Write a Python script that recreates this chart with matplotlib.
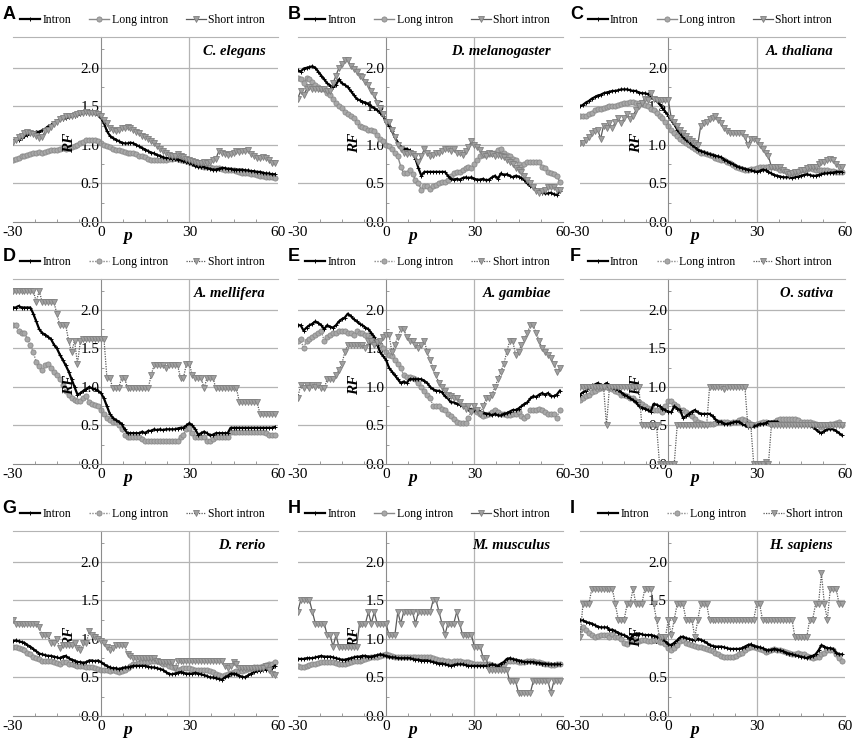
import numpy as np
import matplotlib
matplotlib.use('Agg')
import matplotlib.pyplot as plt
from matplotlib.ticker import MultipleLocator

plt.rcParams['font.family'] = ['Liberation Serif', 'DejaVu Serif']
plt.rcParams['axes.unicode_minus'] = False

# 位置 -30 .. 59
positions = np.arange(-30, 60)

letters = ['A', 'B', 'C', 'D', 'E', 'F', 'G', 'H', 'I']
species = ['C. elegans', 'D. melanogaster', 'A. thaliana', 'A. mellifera', 'A. gambiae',
           'O. sativa', 'D. rerio', 'M. musculus', 'H. sapiens']
series_names = ['Intron', 'Long intron', 'Short intron']
x_ticks = [-30, 0, 30, 60]
y_ticks = [0.0, 0.5, 1.0, 1.5, 2.0]

# A  C. elegans
ce_intron = [1.05, 1.06, 1.07, 1.09, 1.11, 1.13, 1.15, 1.16, 1.17, 1.17,
             1.19, 1.21, 1.24, 1.26, 1.28, 1.31, 1.33, 1.34, 1.35, 1.36,
             1.37, 1.38, 1.39, 1.40, 1.41, 1.42, 1.42, 1.41, 1.41, 1.39,
             1.35, 1.28, 1.18, 1.12, 1.09, 1.07, 1.05, 1.03, 1.02, 1.02,
             1.03, 1.02, 1.00, 0.98, 0.96, 0.94, 0.92, 0.90, 0.89, 0.87,
             0.86, 0.84, 0.83, 0.83, 0.82, 0.82, 0.81, 0.80, 0.79, 0.78,
             0.77, 0.75, 0.73, 0.72, 0.72, 0.71, 0.70, 0.69, 0.68, 0.68,
             0.69, 0.70, 0.70, 0.69, 0.69, 0.68, 0.68, 0.68, 0.68, 0.67,
             0.67, 0.66, 0.66, 0.65, 0.65, 0.64, 0.63, 0.63, 0.62, 0.62]
ce_long = [0.80, 0.82, 0.83, 0.85, 0.86, 0.87, 0.88, 0.89, 0.90, 0.91,
           0.90, 0.91, 0.92, 0.93, 0.94, 0.93, 0.95, 0.96, 0.95, 0.96,
           0.97, 0.99, 1.00, 1.02, 1.04, 1.06, 1.07, 1.07, 1.06, 1.05,
           1.03, 1.00, 0.98, 0.97, 0.95, 0.94, 0.93, 0.92, 0.91, 0.90,
           0.90, 0.89, 0.88, 0.86, 0.85, 0.84, 0.82, 0.81, 0.80, 0.80,
           0.80, 0.81, 0.80, 0.82, 0.82, 0.83, 0.82, 0.81, 0.80, 0.79,
           0.78, 0.76, 0.75, 0.74, 0.73, 0.72, 0.72, 0.71, 0.70, 0.70,
           0.70, 0.69, 0.68, 0.68, 0.67, 0.67, 0.66, 0.65, 0.64, 0.64,
           0.63, 0.62, 0.62, 0.61, 0.60, 0.60, 0.59, 0.59, 0.58, 0.57]
ce_short = [1.04, 1.07, 1.10, 1.12, 1.15, 1.17, 1.16, 1.14, 1.12, 1.09,
            1.10, 1.18, 1.20, 1.23, 1.27, 1.30, 1.33, 1.35, 1.37, 1.37,
            1.38, 1.39, 1.40, 1.41, 1.42, 1.43, 1.42, 1.41, 1.42, 1.40,
            1.38, 1.32, 1.28, 1.22, 1.20, 1.18, 1.20, 1.22, 1.22, 1.23,
            1.22, 1.20, 1.17, 1.15, 1.12, 1.10, 1.08, 1.05, 1.02, 0.98,
            0.95, 0.92, 0.90, 0.87, 0.85, 0.86, 0.88, 0.86, 0.84, 0.82,
            0.80, 0.79, 0.78, 0.77, 0.77, 0.78, 0.77, 0.78, 0.80, 0.82,
            0.92, 0.90, 0.88, 0.87, 0.88, 0.90, 0.92, 0.91, 0.92, 0.92,
            0.93, 0.88, 0.85, 0.83, 0.83, 0.84, 0.83, 0.80, 0.77, 0.76]

# B  D. melanogaster
dm_intron = [1.97, 1.95, 1.99, 2.00, 2.01, 2.02, 2.00, 1.95, 1.90, 1.85,
             1.80, 1.77, 1.75, 1.78, 1.85, 1.80, 1.78, 1.75, 1.70, 1.65,
             1.60, 1.58, 1.56, 1.55, 1.53, 1.50, 1.48, 1.45, 1.42, 1.38,
             1.30, 1.25, 1.18, 1.10, 1.03, 0.97, 0.95, 0.95, 0.93, 0.90,
             0.82, 0.70, 0.60, 0.65, 0.65, 0.65, 0.65, 0.65, 0.65, 0.65,
             0.65, 0.60, 0.56, 0.55, 0.56, 0.55, 0.57, 0.58, 0.57, 0.58,
             0.56, 0.55, 0.55, 0.56, 0.54, 0.55, 0.58, 0.60, 0.56, 0.63,
             0.61, 0.62, 0.60, 0.58, 0.60, 0.59, 0.57, 0.55, 0.50, 0.47,
             0.45, 0.42, 0.40, 0.38, 0.37, 0.37, 0.38, 0.36, 0.35, 0.40]
dm_long = [1.87, 1.85, 1.80, 1.87, 1.85, 1.82, 1.78, 1.75, 1.73, 1.72,
           1.68, 1.65, 1.60, 1.55, 1.50, 1.48, 1.43, 1.40, 1.38, 1.35,
           1.30, 1.25, 1.23, 1.22, 1.20, 1.20, 1.18, 1.13, 1.08, 1.05,
           1.00, 0.98, 0.95, 0.90, 0.85, 0.72, 0.63, 0.63, 0.68, 0.62,
           0.55, 0.50, 0.42, 0.47, 0.47, 0.43, 0.47, 0.48, 0.50, 0.52,
           0.52, 0.55, 0.60, 0.63, 0.65, 0.65, 0.68, 0.70, 0.72, 0.70,
           0.75, 0.80, 0.85, 0.87, 0.88, 0.88, 0.90, 0.90, 0.93, 0.95,
           0.90, 0.87, 0.85, 0.82, 0.80, 0.75, 0.72, 0.75, 0.78, 0.78,
           0.78, 0.78, 0.78, 0.72, 0.70, 0.65, 0.63, 0.62, 0.60, 0.52]
dm_short = [1.60, 1.70, 1.65, 1.72, 1.75, 1.73, 1.73, 1.73, 1.73, 1.72,
            1.70, 1.70, 1.80, 1.90, 2.00, 2.05, 2.10, 2.10, 2.02, 1.98,
            1.95, 1.90, 1.88, 1.82, 1.78, 1.70, 1.65, 1.55, 1.48, 1.40,
            1.30, 1.30, 1.20, 1.10, 1.00, 0.95, 0.90, 0.88, 0.90, 0.88,
            0.85, 0.78, 0.85, 0.95, 0.90, 0.85, 0.87, 0.90, 0.90, 0.92,
            0.95, 0.95, 0.92, 0.95, 0.90, 0.90, 0.87, 0.92, 0.97, 1.05,
            1.00, 0.97, 0.93, 0.88, 0.85, 0.90, 0.88, 0.85, 0.87, 0.85,
            0.84, 0.80, 0.78, 0.75, 0.70, 0.68, 0.65, 0.60, 0.55, 0.50,
            0.45, 0.40, 0.38, 0.40, 0.42, 0.45, 0.45, 0.45, 0.42, 0.42]

# C  A. thaliana
at_intron = [1.50, 1.52, 1.55, 1.57, 1.60, 1.62, 1.64, 1.65, 1.67, 1.68,
             1.69, 1.70, 1.70, 1.71, 1.72, 1.72, 1.72, 1.71, 1.70, 1.70,
             1.68, 1.67, 1.67, 1.66, 1.62, 1.60, 1.57, 1.53, 1.48, 1.43,
             1.38, 1.32, 1.27, 1.20, 1.15, 1.10, 1.07, 1.04, 1.00, 0.97,
             0.94, 0.92, 0.91, 0.89, 0.88, 0.87, 0.86, 0.85, 0.84, 0.81,
             0.79, 0.77, 0.75, 0.73, 0.71, 0.70, 0.69, 0.68, 0.67, 0.66,
             0.65, 0.66, 0.68, 0.67, 0.65, 0.63, 0.61, 0.60, 0.59, 0.58,
             0.58, 0.58, 0.57, 0.58, 0.59, 0.60, 0.61, 0.62, 0.61, 0.60,
             0.60, 0.61, 0.62, 0.63, 0.63, 0.64, 0.64, 0.65, 0.65, 0.65]
at_long = [1.38, 1.37, 1.38, 1.40, 1.42, 1.45, 1.46, 1.47, 1.48, 1.49,
           1.50, 1.50, 1.51, 1.52, 1.53, 1.54, 1.55, 1.56, 1.56, 1.55,
           1.55, 1.53, 1.52, 1.50, 1.47, 1.45, 1.42, 1.38, 1.35, 1.30,
           1.25, 1.20, 1.15, 1.12, 1.08, 1.05, 1.02, 1.00, 0.97, 0.95,
           0.92, 0.90, 0.89, 0.88, 0.87, 0.85, 0.83, 0.82, 0.81, 0.80,
           0.78, 0.76, 0.74, 0.72, 0.70, 0.69, 0.68, 0.68, 0.69, 0.69,
           0.70, 0.71, 0.72, 0.72, 0.71, 0.72, 0.71, 0.70, 0.68, 0.67,
           0.66, 0.63, 0.64, 0.65, 0.66, 0.67, 0.68, 0.69, 0.70, 0.69,
           0.68, 0.68, 0.68, 0.67, 0.67, 0.66, 0.66, 0.65, 0.65, 0.65]
at_short = [1.03, 1.03, 1.07, 1.10, 1.15, 1.18, 1.20, 1.08, 1.25, 1.22,
            1.28, 1.22, 1.30, 1.35, 1.28, 1.35, 1.40, 1.33, 1.38, 1.45,
            1.50, 1.55, 1.60, 1.58, 1.68, 1.60, 1.58, 1.58, 1.58, 1.58,
            1.58, 1.35, 1.30, 1.25, 1.20, 1.15, 1.12, 1.08, 1.05, 1.02,
            1.00, 1.25, 1.28, 1.30, 1.33, 1.35, 1.37, 1.32, 1.28, 1.22,
            1.18, 1.15, 1.15, 1.15, 1.15, 1.15, 1.10, 1.00, 1.08, 1.08,
            1.05, 1.00, 0.95, 0.90, 0.85, 0.72, 0.72, 0.72, 0.72, 0.68,
            0.65, 0.62, 0.63, 0.65, 0.65, 0.68, 0.68, 0.70, 0.72, 0.72,
            0.72, 0.75, 0.78, 0.78, 0.80, 0.82, 0.80, 0.75, 0.72, 0.72]

# D  A. mellifera
am_intron = [2.03, 2.03, 2.05, 2.03, 2.03, 2.03, 2.03, 1.95, 1.85, 1.75,
             1.70, 1.68, 1.65, 1.62, 1.55, 1.50, 1.42, 1.35, 1.28, 1.20,
             1.10, 1.00, 0.90, 0.92, 0.95, 0.97, 1.00, 0.98, 0.97, 0.95,
             0.92, 0.85, 0.75, 0.65, 0.60, 0.57, 0.55, 0.52, 0.45, 0.40,
             0.40, 0.40, 0.40, 0.40, 0.42, 0.40, 0.43, 0.43, 0.45, 0.44,
             0.45, 0.44, 0.45, 0.45, 0.45, 0.45, 0.46, 0.47, 0.47, 0.50,
             0.53, 0.50, 0.45, 0.38, 0.40, 0.42, 0.40, 0.37, 0.38, 0.40,
             0.40, 0.40, 0.40, 0.40, 0.47, 0.47, 0.47, 0.47, 0.47, 0.47,
             0.47, 0.47, 0.47, 0.47, 0.47, 0.47, 0.47, 0.47, 0.47, 0.48]
am_long = [1.80, 1.80, 1.72, 1.70, 1.70, 1.62, 1.55, 1.45, 1.32, 1.27,
           1.22, 1.28, 1.30, 1.25, 1.20, 1.15, 1.10, 1.03, 0.95, 0.90,
           0.86, 0.83, 0.82, 0.82, 0.85, 0.88, 0.80, 0.78, 0.77, 0.75,
           0.70, 0.65, 0.60, 0.57, 0.55, 0.55, 0.50, 0.45, 0.37, 0.35,
           0.35, 0.35, 0.35, 0.35, 0.33, 0.30, 0.30, 0.30, 0.30, 0.30,
           0.30, 0.30, 0.30, 0.30, 0.30, 0.30, 0.30, 0.35, 0.38, 0.45,
           0.47, 0.40, 0.35, 0.35, 0.35, 0.35, 0.30, 0.30, 0.32, 0.35,
           0.35, 0.35, 0.35, 0.35, 0.42, 0.42, 0.42, 0.42, 0.42, 0.42,
           0.42, 0.42, 0.42, 0.42, 0.42, 0.42, 0.40, 0.38, 0.38, 0.38]
am_short = [2.25, 2.25, 2.25, 2.25, 2.25, 2.25, 2.25, 2.25, 2.10, 2.25,
            2.10, 2.10, 2.10, 2.10, 2.10, 1.95, 1.80, 1.80, 1.80, 1.60,
            1.45, 1.60, 1.30, 1.60, 1.62, 1.62, 1.62, 1.62, 1.62, 1.62,
            1.62, 1.62, 1.12, 1.12, 0.98, 0.98, 0.98, 1.12, 1.12, 0.98,
            0.98, 0.98, 0.98, 0.98, 0.98, 0.98, 0.98, 1.15, 1.28, 1.28,
            1.28, 1.28, 1.25, 1.28, 1.28, 1.28, 1.28, 1.12, 1.12, 1.30,
            1.30, 1.15, 1.12, 1.12, 1.12, 0.98, 1.12, 1.12, 1.12, 0.98,
            0.98, 0.98, 0.98, 0.98, 0.98, 0.98, 0.98, 0.80, 0.80, 0.80,
            0.80, 0.80, 0.80, 0.80, 0.65, 0.65, 0.65, 0.65, 0.65, 0.65]

# E  A. gambiae
ag_intron = [1.80, 1.80, 1.73, 1.77, 1.80, 1.82, 1.85, 1.83, 1.80, 1.75,
             1.80, 1.78, 1.77, 1.80, 1.85, 1.88, 1.90, 1.95, 1.92, 1.88,
             1.85, 1.82, 1.80, 1.77, 1.75, 1.70, 1.65, 1.55, 1.45, 1.40,
             1.35, 1.25, 1.20, 1.15, 1.10, 1.05, 1.07, 1.05, 1.10, 1.10,
             1.10, 1.10, 1.10, 1.08, 1.05, 1.00, 0.97, 0.95, 0.95, 0.93,
             0.88, 0.85, 0.80, 0.80, 0.78, 0.77, 0.75, 0.73, 0.72, 0.70,
             0.70, 0.70, 0.68, 0.67, 0.65, 0.65, 0.63, 0.65, 0.63, 0.63,
             0.65, 0.66, 0.68, 0.70, 0.70, 0.72, 0.75, 0.78, 0.80, 0.85,
             0.88, 0.87, 0.90, 0.92, 0.90, 0.92, 0.88, 0.88, 0.90, 0.95]
ag_long = [1.60, 1.62, 1.50, 1.60, 1.62, 1.65, 1.67, 1.70, 1.72, 1.60,
           1.65, 1.68, 1.70, 1.70, 1.72, 1.72, 1.72, 1.70, 1.70, 1.68,
           1.72, 1.70, 1.70, 1.68, 1.68, 1.65, 1.60, 1.58, 1.55, 1.50,
           1.45, 1.42, 1.40, 1.35, 1.30, 1.25, 1.15, 1.13, 1.13, 1.12,
           1.10, 1.05, 1.00, 0.95, 0.90, 0.85, 0.75, 0.75, 0.75, 0.72,
           0.70, 0.65, 0.62, 0.58, 0.55, 0.53, 0.53, 0.53, 0.60, 0.70,
           0.70, 0.68, 0.65, 0.62, 0.63, 0.65, 0.68, 0.70, 0.68, 0.65,
           0.65, 0.63, 0.63, 0.65, 0.65, 0.68, 0.62, 0.60, 0.62, 0.70,
           0.70, 0.70, 0.72, 0.70, 0.68, 0.65, 0.65, 0.65, 0.60, 0.70]
ag_short = [0.86, 1.02, 0.98, 1.02, 0.98, 1.02, 1.00, 1.02, 0.99, 0.98,
            1.10, 1.10, 1.10, 1.15, 1.22, 1.30, 1.45, 1.55, 1.55, 1.55,
            1.55, 1.55, 1.55, 1.50, 1.60, 1.60, 1.55, 1.58, 1.60, 1.65,
            1.68, 1.68, 1.45, 1.55, 1.65, 1.75, 1.75, 1.65, 1.60, 1.60,
            1.55, 1.50, 1.55, 1.60, 1.45, 1.35, 1.25, 1.15, 1.05, 1.00,
            0.95, 0.90, 0.88, 0.85, 0.85, 0.80, 0.75, 0.72, 0.75, 0.68,
            0.75, 0.70, 0.65, 0.75, 0.85, 0.85, 0.90, 1.00, 1.10, 1.20,
            1.30, 1.45, 1.60, 1.60, 1.42, 1.45, 1.55, 1.62, 1.70, 1.80,
            1.80, 1.70, 1.60, 1.50, 1.45, 1.42, 1.38, 1.30, 1.20, 1.25]

# F  O. sativa
os_intron = [0.90, 0.93, 0.95, 0.98, 1.02, 1.03, 1.05, 1.03, 1.02, 1.05,
             1.00, 0.98, 0.97, 0.96, 0.93, 0.90, 0.88, 0.85, 0.83, 0.80,
             0.75, 0.73, 0.72, 0.70, 0.68, 0.78, 0.77, 0.75, 0.72, 0.70,
             0.68, 0.67, 0.75, 0.72, 0.70, 0.60, 0.62, 0.65, 0.68, 0.70,
             0.67, 0.65, 0.65, 0.65, 0.65, 0.62, 0.58, 0.55, 0.55, 0.52,
             0.52, 0.53, 0.54, 0.55, 0.55, 0.52, 0.50, 0.48, 0.48, 0.49,
             0.50, 0.52, 0.52, 0.53, 0.55, 0.55, 0.55, 0.55, 0.52, 0.50,
             0.52, 0.52, 0.52, 0.50, 0.50, 0.50, 0.50, 0.50, 0.50, 0.48,
             0.45, 0.42, 0.40, 0.43, 0.45, 0.45, 0.45, 0.43, 0.40, 0.37]
os_long = [0.83, 0.85, 0.88, 0.90, 0.93, 0.95, 0.97, 0.98, 1.00, 1.00,
           0.98, 0.97, 0.95, 0.93, 0.90, 0.89, 0.88, 0.86, 0.85, 0.82,
           0.80, 0.78, 0.75, 0.73, 0.72, 0.70, 0.70, 0.70, 0.68, 0.75,
           0.82, 0.82, 0.78, 0.75, 0.70, 0.70, 0.68, 0.65, 0.62, 0.58,
           0.55, 0.53, 0.52, 0.52, 0.52, 0.52, 0.53, 0.55, 0.55, 0.55,
           0.55, 0.53, 0.55, 0.55, 0.57, 0.58, 0.57, 0.55, 0.52, 0.50,
           0.52, 0.53, 0.55, 0.55, 0.53, 0.52, 0.55, 0.57, 0.58, 0.58,
           0.58, 0.58, 0.58, 0.58, 0.57, 0.55, 0.55, 0.55, 0.55, 0.53,
           0.52, 0.50, 0.48, 0.50, 0.50, 0.52, 0.52, 0.53, 0.55, 0.50]
os_short = [1.00, 1.00, 1.00, 1.00, 1.00, 1.00, 1.00, 1.00, 1.00, 0.50,
            1.00, 1.00, 1.00, 1.00, 1.00, 1.00, 1.00, 1.00, 1.00, 1.00,
            1.00, 0.50, 0.50, 0.50, 0.50, 0.50, 0.50, 0.00, 0.00, 0.00,
            0.00, 0.00, 0.00, 0.50, 0.50, 0.50, 0.50, 0.50, 0.50, 0.50,
            0.50, 0.50, 0.50, 0.50, 1.00, 1.00, 1.00, 1.00, 1.00, 0.97,
            1.00, 1.00, 1.00, 1.00, 1.00, 1.00, 1.00, 0.50, 0.50, 0.00,
            0.00, 0.00, 0.00, 0.02, 0.00, 0.50, 0.50, 0.50, 0.50, 0.50,
            0.50, 0.50, 0.50, 0.50, 0.50, 0.50, 0.50, 0.50, 0.50, 0.50,
            0.50, 0.50, 0.50, 0.50, 0.50, 0.50, 0.50, 0.50, 0.50, 0.50]

# G  D. rerio
dr_intron = [0.97, 0.98, 0.97, 0.96, 0.95, 0.92, 0.90, 0.87, 0.84, 0.81,
             0.80, 0.79, 0.78, 0.78, 0.77, 0.76, 0.75, 0.77, 0.78, 0.75,
             0.73, 0.72, 0.70, 0.70, 0.69, 0.70, 0.72, 0.72, 0.71, 0.72,
             0.70, 0.67, 0.65, 0.63, 0.62, 0.62, 0.61, 0.62, 0.63, 0.63,
             0.64, 0.65, 0.65, 0.65, 0.65, 0.65, 0.64, 0.63, 0.63, 0.62,
             0.61, 0.60, 0.57, 0.55, 0.54, 0.55, 0.56, 0.57, 0.56, 0.55,
             0.55, 0.55, 0.56, 0.55, 0.54, 0.53, 0.52, 0.50, 0.50, 0.49,
             0.48, 0.47, 0.50, 0.52, 0.55, 0.55, 0.54, 0.52, 0.51, 0.50,
             0.53, 0.55, 0.57, 0.58, 0.59, 0.60, 0.60, 0.60, 0.62, 0.65]
dr_long = [0.90, 0.89, 0.88, 0.87, 0.85, 0.82, 0.80, 0.77, 0.75, 0.74,
           0.72, 0.72, 0.72, 0.71, 0.70, 0.69, 0.68, 0.70, 0.70, 0.68,
           0.67, 0.66, 0.65, 0.65, 0.65, 0.64, 0.63, 0.63, 0.62, 0.61,
           0.60, 0.60, 0.60, 0.59, 0.60, 0.58, 0.57, 0.58, 0.60, 0.62,
           0.65, 0.67, 0.68, 0.69, 0.70, 0.70, 0.70, 0.71, 0.72, 0.71,
           0.70, 0.68, 0.67, 0.65, 0.63, 0.62, 0.60, 0.61, 0.62, 0.62,
           0.62, 0.61, 0.60, 0.60, 0.60, 0.60, 0.60, 0.58, 0.57, 0.55,
           0.53, 0.52, 0.53, 0.55, 0.56, 0.57, 0.58, 0.58, 0.59, 0.60,
           0.61, 0.62, 0.63, 0.63, 0.64, 0.65, 0.66, 0.67, 0.68, 0.70]
dr_short = [1.25, 1.20, 1.20, 1.20, 1.20, 1.20, 1.20, 1.20, 1.20, 1.15,
            1.05, 1.05, 1.05, 0.95, 0.95, 1.00, 0.88, 0.92, 0.92, 0.92,
            0.92, 0.95, 0.88, 0.85, 0.95, 0.95, 1.10, 1.05, 1.02, 1.00,
            0.97, 0.95, 0.90, 0.85, 0.88, 0.92, 0.92, 0.92, 0.92, 0.80,
            0.78, 0.75, 0.75, 0.75, 0.75, 0.75, 0.75, 0.75, 0.75, 0.72,
            0.70, 0.70, 0.70, 0.70, 0.70, 0.62, 0.72, 0.72, 0.72, 0.72,
            0.72, 0.72, 0.72, 0.72, 0.72, 0.72, 0.72, 0.72, 0.72, 0.72,
            0.72, 0.72, 0.65, 0.62, 0.65, 0.70, 0.68, 0.62, 0.62, 0.62,
            0.62, 0.62, 0.62, 0.62, 0.62, 0.62, 0.65, 0.60, 0.55, 0.53]

# H  M. musculus
mm_intron = [0.74, 0.74, 0.74, 0.75, 0.75, 0.75, 0.76, 0.77, 0.78, 0.77,
             0.77, 0.77, 0.76, 0.75, 0.74, 0.73, 0.73, 0.74, 0.75, 0.76,
             0.77, 0.77, 0.78, 0.78, 0.77, 0.77, 0.78, 0.79, 0.80, 0.79,
             0.78, 0.77, 0.76, 0.76, 0.75, 0.75, 0.75, 0.75, 0.75, 0.74,
             0.73, 0.73, 0.72, 0.72, 0.72, 0.71, 0.70, 0.69, 0.68, 0.68,
             0.67, 0.66, 0.65, 0.66, 0.67, 0.67, 0.67, 0.66, 0.65, 0.65,
             0.65, 0.65, 0.65, 0.65, 0.65, 0.66, 0.67, 0.66, 0.65, 0.68,
             0.70, 0.74, 0.75, 0.74, 0.73, 0.72, 0.71, 0.70, 0.70, 0.70,
             0.70, 0.69, 0.69, 0.68, 0.68, 0.67, 0.67, 0.67, 0.67, 0.67]
mm_long = [0.65, 0.63, 0.64, 0.65, 0.66, 0.68, 0.68, 0.69, 0.70, 0.70,
           0.70, 0.70, 0.70, 0.69, 0.68, 0.68, 0.68, 0.69, 0.70, 0.71,
           0.72, 0.72, 0.73, 0.74, 0.75, 0.76, 0.77, 0.77, 0.78, 0.79,
           0.80, 0.79, 0.78, 0.77, 0.76, 0.76, 0.76, 0.76, 0.77, 0.77,
           0.77, 0.77, 0.76, 0.76, 0.76, 0.76, 0.75, 0.74, 0.73, 0.73,
           0.72, 0.71, 0.70, 0.71, 0.72, 0.71, 0.70, 0.70, 0.70, 0.69,
           0.68, 0.68, 0.68, 0.68, 0.68, 0.67, 0.66, 0.65, 0.65, 0.65,
           0.68, 0.72, 0.72, 0.72, 0.71, 0.70, 0.70, 0.70, 0.71, 0.71,
           0.72, 0.70, 0.70, 0.69, 0.68, 0.68, 0.66, 0.66, 0.67, 0.67]
mm_short = [1.35, 1.50, 1.50, 1.50, 1.50, 1.35, 1.20, 1.20, 1.20, 1.20,
            1.05, 1.05, 0.90, 1.05, 0.90, 0.90, 0.90, 0.90, 0.90, 0.90,
            0.90, 1.20, 1.20, 1.20, 1.35, 1.20, 1.35, 1.20, 1.20, 1.20,
            1.20, 1.05, 1.05, 1.05, 1.35, 1.20, 1.35, 1.35, 1.35, 1.35,
            1.20, 1.35, 1.35, 1.35, 1.35, 1.35, 1.50, 1.50, 1.35, 1.20,
            1.05, 1.20, 1.20, 1.20, 1.35, 1.20, 1.05, 1.05, 1.05, 1.05,
            0.90, 0.90, 0.90, 0.75, 0.75, 0.60, 0.60, 0.60, 0.60, 0.60,
            0.60, 0.60, 0.45, 0.45, 0.45, 0.30, 0.30, 0.30, 0.30, 0.30,
            0.45, 0.45, 0.45, 0.45, 0.45, 0.45, 0.30, 0.45, 0.45, 0.45]

# I  H. sapiens
hs_intron = [1.25, 1.24, 1.22, 1.21, 1.20, 1.18, 1.16, 1.15, 1.15, 1.15,
             1.12, 1.12, 1.10, 1.08, 1.06, 1.05, 1.03, 1.00, 1.05, 1.07,
             1.07, 1.06, 1.05, 1.05, 1.05, 1.04, 1.03, 1.02, 1.00, 0.97,
             0.93, 0.92, 0.95, 0.98, 1.02, 1.03, 1.01, 1.00, 0.99, 0.98,
             1.00, 0.99, 0.97, 0.95, 0.92, 0.91, 0.90, 0.90, 0.90, 0.89,
             0.88, 0.87, 0.87, 0.87, 0.87, 0.88, 0.90, 0.92, 0.93, 0.91,
             0.90, 0.89, 0.88, 0.86, 0.85, 0.86, 0.87, 0.86, 0.85, 0.84,
             0.82, 0.81, 0.80, 0.79, 0.78, 0.77, 0.76, 0.75, 0.77, 0.78,
             0.80, 0.85, 0.92, 0.90, 0.88, 0.88, 0.87, 0.82, 0.80, 0.80]
hs_long = [1.12, 1.15, 1.12, 1.08, 1.05, 1.03, 1.04, 1.05, 1.05, 1.05,
           1.03, 1.07, 1.03, 1.02, 1.00, 0.95, 0.93, 0.97, 1.00, 0.98,
           0.97, 0.98, 0.98, 0.97, 0.97, 0.98, 0.98, 0.96, 0.96, 0.93,
           0.88, 0.85, 0.88, 0.92, 0.97, 0.98, 0.95, 0.94, 0.92, 0.91,
           0.90, 0.89, 0.88, 0.87, 0.85, 0.84, 0.82, 0.80, 0.78, 0.77,
           0.77, 0.77, 0.77, 0.78, 0.80, 0.82, 0.85, 0.88, 0.90, 0.90,
           0.88, 0.87, 0.85, 0.83, 0.84, 0.85, 0.87, 0.86, 0.85, 0.84,
           0.83, 0.82, 0.80, 0.81, 0.82, 0.81, 0.80, 0.78, 0.77, 0.75,
           0.76, 0.77, 0.80, 0.82, 0.85, 0.85, 0.85, 0.80, 0.75, 0.72]
hs_short = [1.02, 1.45, 1.45, 1.45, 1.65, 1.65, 1.65, 1.65, 1.65, 1.65,
            1.65, 1.65, 1.45, 1.25, 1.25, 1.25, 1.45, 1.45, 1.65, 1.45,
            1.45, 1.45, 1.65, 1.65, 1.65, 1.45, 1.25, 1.02, 1.02, 1.02,
            1.25, 1.05, 1.25, 1.45, 1.45, 1.45, 1.25, 1.25, 1.25, 1.02,
            1.25, 1.45, 1.45, 1.45, 1.25, 1.25, 1.25, 1.25, 1.25, 1.25,
            1.25, 1.25, 1.25, 1.25, 1.25, 1.25, 1.25, 1.25, 1.25, 1.25,
            1.45, 1.45, 1.25, 1.25, 1.25, 1.25, 1.25, 1.25, 1.25, 1.25,
            1.25, 1.25, 1.25, 1.02, 1.02, 1.02, 1.02, 1.02, 1.25, 1.25,
            1.45, 1.45, 1.85, 1.45, 1.25, 1.65, 1.65, 1.65, 1.45, 1.45]

panels = [
    (ce_intron, ce_long, ce_short),
    (dm_intron, dm_long, dm_short),
    (at_intron, at_long, at_short),
    (am_intron, am_long, am_short),
    (ag_intron, ag_long, ag_short),
    (os_intron, os_long, os_short),
    (dr_intron, dr_long, dr_short),
    (mm_intron, mm_long, mm_short),
    (hs_intron, hs_long, hs_short),
]
dotted = [False, False, False, True, True, True, True, False, True]

fig = plt.figure(figsize=(8.58, 7.42), dpi=100)
W, H = 858, 742
col_left = [12.7, 297.7, 580]
row_top = [37, 279, 531]
ax_w, ax_h = 265, 185

for i, (intron, long_, short) in enumerate(panels):
    r, c = divmod(i, 3)
    left = col_left[c] / W
    bottom = 1 - (row_top[r] + ax_h) / H
    ax = fig.add_axes([left, bottom, ax_w / W, ax_h / H])

    ax.set_xlim(-30, 60)
    ax.set_ylim(0, 2.4)
    # 网格
    for yv in y_ticks[1:]:
        ax.axhline(yv, color='#b4b4b4', lw=0.9, zorder=0)
    ax.axvline(30, color='#b4b4b4', lw=0.9, zorder=0)

    ls = (0, (1, 1)) if dotted[i] else '-'
    ax.plot(positions, long_, color='#8a8a8a', lw=1.0, ls=ls, marker='o', ms=3.7,
            mfc='#a8a8a8', mec='#8a8a8a', mew=0.6, label=series_names[1], zorder=2)
    ax.plot(positions, intron, color='black', lw=1.6, marker='+', ms=2.5, mew=0.7,
            label=series_names[0], zorder=3)
    ax.plot(positions, short, color='#5a5a5a', lw=0.9, ls=ls, marker='v', ms=3.9,
            mfc='#a0a0a0', mec='#808080', mew=0.6, label=series_names[2], zorder=4)

    # 坐标轴
    ax.spines['right'].set_visible(False)
    ax.spines['left'].set_position(('data', 0))
    ax.spines['left'].set_color('#8c8c8c')
    ax.spines['bottom'].set_color('#8c8c8c')
    ax.spines['top'].set_color('#b4b4b4')
    ax.set_xticks(x_ticks)
    ax.set_yticks(y_ticks)
    ax.set_yticklabels(['%.1f' % v for v in y_ticks])
    ax.xaxis.set_minor_locator(MultipleLocator(7.5))
    ax.yaxis.set_minor_locator(MultipleLocator(0.25))
    ax.tick_params(axis='both', which='major', length=0, labelsize=11, pad=3, colors='black')
    ax.tick_params(axis='y', which='major', pad=1)
    ax.tick_params(axis='both', which='minor', length=2.5, width=0.6, color='#8c8c8c', direction='in')

    # 标签
    ax.text(9, -0.18, 'p', fontsize=12.5, fontweight='bold', fontstyle='italic',
            ha='center', va='center', clip_on=False)
    ax.text(0.215, 0.43, 'RF', transform=ax.transAxes, rotation=90, fontsize=11,
            fontweight='bold', fontstyle='italic', ha='center', va='center')
    ax.text(0.955, 0.92, species[i], transform=ax.transAxes, fontsize=10.5,
            fontweight='bold', fontstyle='italic', ha='right', va='center')

    handles, labels = ax.get_legend_handles_labels()
    order = [1, 0, 2]
    leg_x = 0.53 if i == 8 else 0.49
    ax.legend([handles[k] for k in order], [labels[k] for k in order],
              loc='center', bbox_to_anchor=(leg_x, 1.09), ncol=3, frameon=False,
              fontsize=8.5, handlelength=1.7, handletextpad=0.2, columnspacing=1.5,
              borderpad=0, borderaxespad=0)

    fig.text((col_left[c] - 10) / W, 1 - (row_top[r] - 31) / H, letters[i],
             fontsize=13, fontweight='bold', family=['Liberation Sans', 'DejaVu Sans'],
             ha='left', va='top')

fig.savefig('out.png', dpi=100)
